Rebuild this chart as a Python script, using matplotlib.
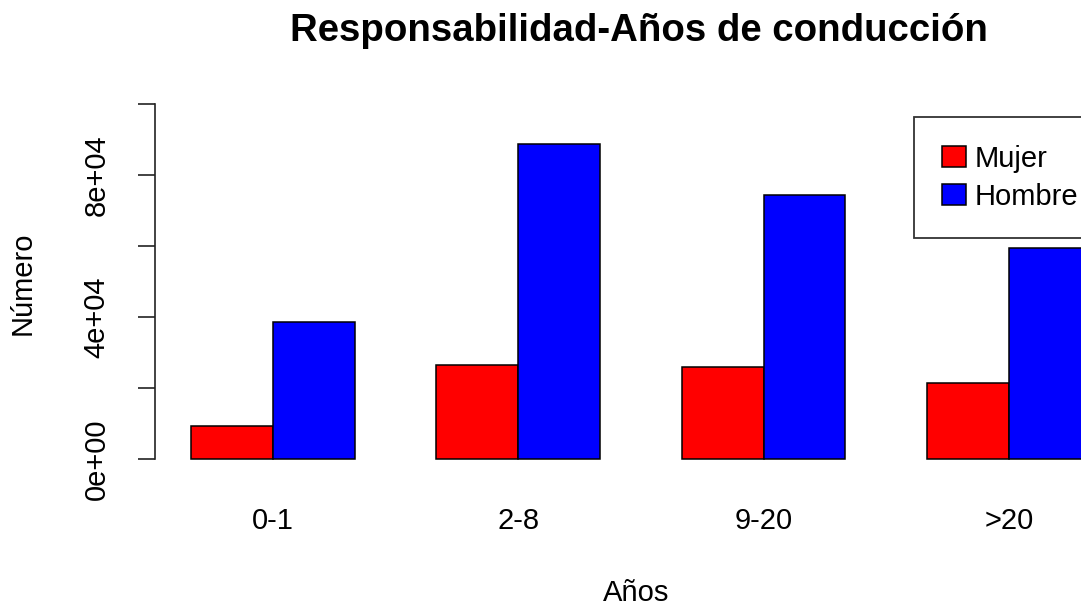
import numpy as np
import matplotlib.pyplot as plt

categorias = ['0-1', '2-8', '9-20', '>20']
mujer = [9400, 26500, 26100, 21600]
hombre = [38800, 88700, 74400, 59400]
series = ['Mujer', 'Hombre']
colores = ['red', 'blue']
yticks = [0, 20000, 40000, 60000, 80000, 100000]
yticklabels = ['0e+00', '', '4e+04', '', '8e+04', '']

plt.rcParams['font.family'] = ['Liberation Sans', 'DejaVu Sans']

W, H = 1081, 608
fig = plt.figure(figsize=(W / 100, H / 100), dpi=100)
# plot region runs past the right edge, as in the cropped original
ax = fig.add_axes([155 / W, 1 - 473.7 / H, 971.8 / W, (473.7 - 89.8) / H])

# R barplot(beside=TRUE) layout: bars width 1, group gap 1
centros = np.arange(len(categorias)) * 3 + 2
ax.bar(centros - 0.5, mujer, width=1, color=colores[0], edgecolor='black',
       linewidth=1.1, label=series[0])
ax.bar(centros + 0.5, hombre, width=1, color=colores[1], edgecolor='black',
       linewidth=1.1, label=series[1])

ax.set_xlim(0.56, 12.44)
ax.set_ylim(-4000, 104000)

for s in ['top', 'right', 'bottom']:
    ax.spines[s].set_visible(False)
ax.spines['left'].set_bounds(0, 100000)
ax.spines['left'].set_linewidth(1.2)
ax.spines['left'].set_color('#222222')

ax.set_yticks(yticks)
ax.set_yticklabels(yticklabels)
ax.tick_params(axis='y', length=12, width=1.2, color='#222222', pad=20,
               labelsize=21, labelrotation=90)
for t in ax.get_yticklabels():
    t.set_va('center')

ax.set_xticks(centros)
ax.set_xticklabels(categorias)
ax.tick_params(axis='x', length=0, pad=24, labelsize=21)

fig.text(639 / W, 1 - 31 / H, 'Responsabilidad-Años de conducción',
         ha='center', va='center', fontsize=27.6, fontweight='bold')
fig.text(636 / W, 1 - 593 / H, 'Años', ha='center', va='center', fontsize=21)
fig.text(22.5 / W, 1 - 283 / H, 'Número', ha='center', va='center',
         fontsize=21, rotation=90)

leg = ax.legend(loc='upper left', bbox_to_anchor=(914 / W, 1 - 117 / H),
                bbox_transform=fig.transFigure, borderaxespad=0,
                fontsize=21, fancybox=False, edgecolor='#333333',
                framealpha=1, handlelength=0.83, handleheight=0.69,
                handletextpad=0.31, labelspacing=0.34, borderpad=0.95)
leg.get_frame().set_linewidth(1.3)

fig.savefig('out.png', dpi=100)
